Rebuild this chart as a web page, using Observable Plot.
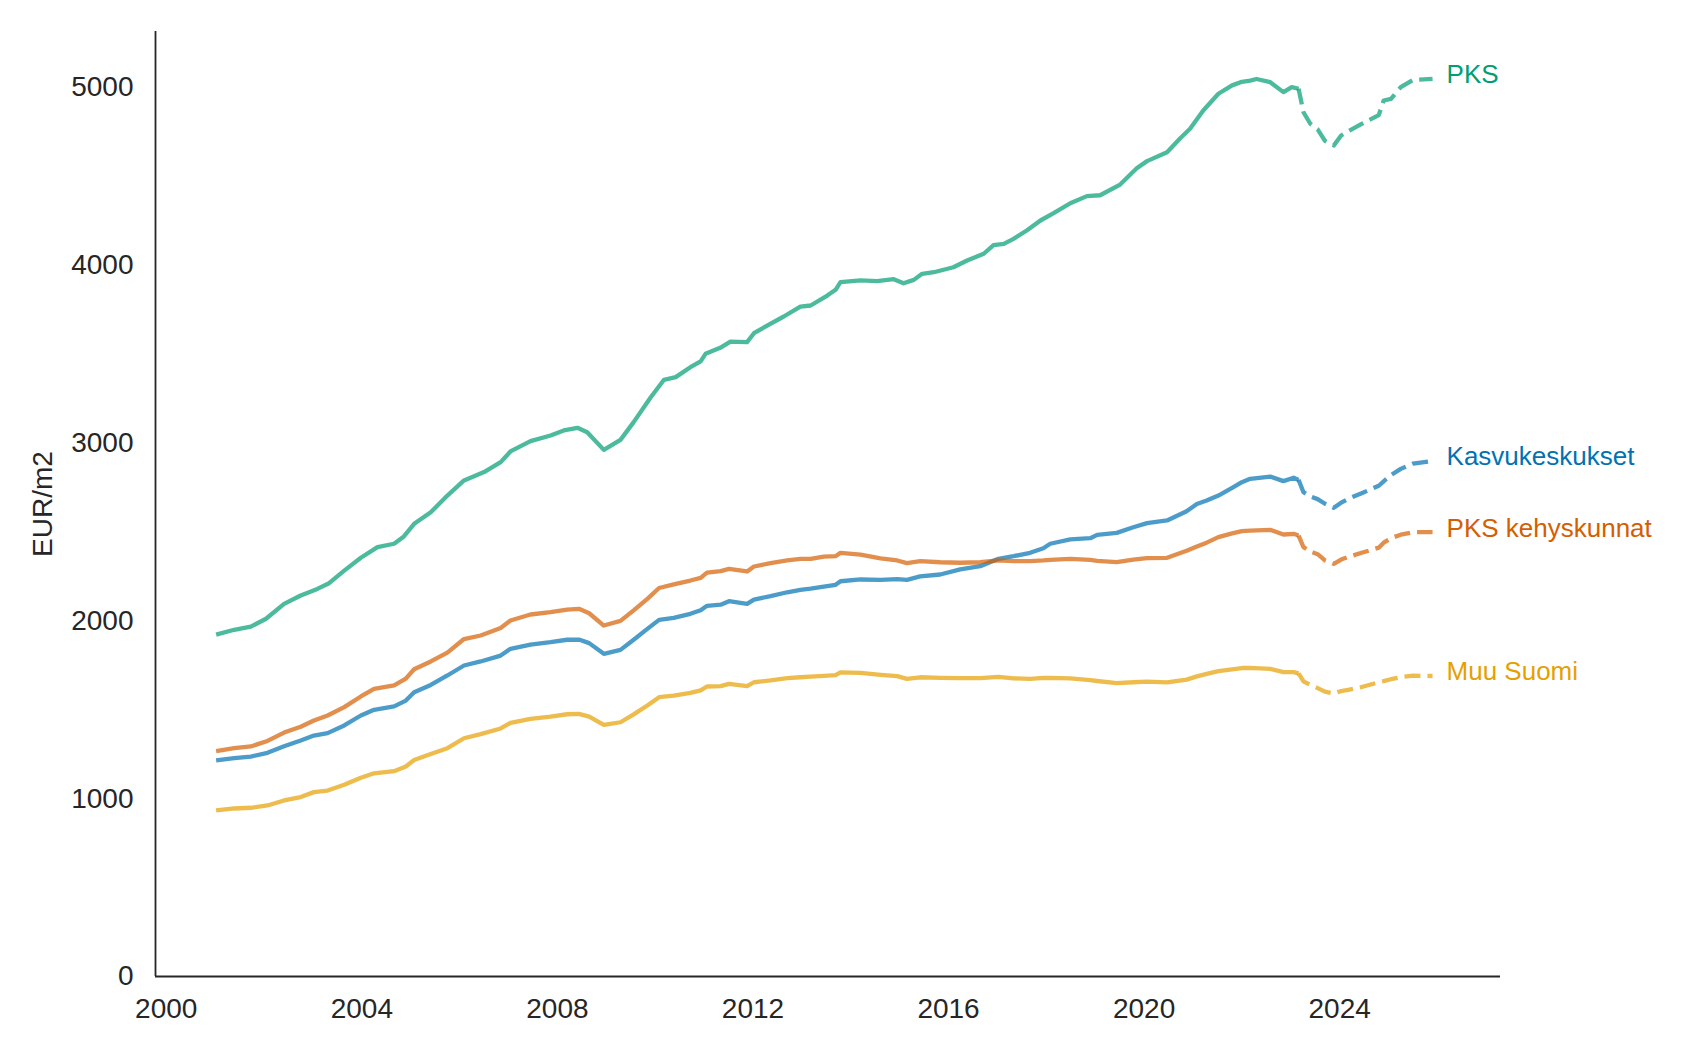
<!DOCTYPE html>
<html>
<head>
<meta charset="utf-8">
<script src="https://cdn.jsdelivr.net/npm/d3@7"></script>
<script src="https://cdn.jsdelivr.net/npm/@observablehq/plot@0.6"></script>
<style>
  html, body { margin: 0; padding: 0; background: #fff; }
  #chart { width: 1685px; height: 1053px; }
</style>
</head>
<body>
<div id="chart"></div>
<script>
// Series names and colours
const seriesNames = ["PKS", "Kasvukeskukset", "PKS kehyskunnat", "Muu Suomi"];
const seriesColors = ["#009e73", "#0072b2", "#d55e00", "#e69f00"];

// Tick values
const xTicks = [2000, 2004, 2008, 2012, 2016, 2020, 2024];
const yTicks = [0, 1000, 2000, 3000, 4000, 5000];

// PKS (historical)
const tPks = [2001.02, 2001.39, 2001.73, 2002.04, 2002.41, 2002.75, 2003.09, 2003.33, 2003.64, 2003.98,
  2004.32, 2004.66, 2004.86, 2005.07, 2005.41, 2005.75, 2006.09, 2006.5, 2006.84, 2007.04,
  2007.45, 2007.86, 2008.13, 2008.41, 2008.61, 2008.95, 2009.29, 2009.56, 2009.91, 2010.18,
  2010.42, 2010.72, 2010.93, 2011.03, 2011.33, 2011.54, 2011.88, 2012.02, 2012.29, 2012.63,
  2012.97, 2013.18, 2013.52, 2013.69, 2013.79, 2014.2, 2014.54, 2014.88, 2015.08, 2015.29,
  2015.46, 2015.7, 2016.1, 2016.38, 2016.72, 2016.92, 2017.13, 2017.33, 2017.6, 2017.88,
  2018.15, 2018.49, 2018.83, 2019.1, 2019.51, 2019.85, 2020.06, 2020.47, 2020.74, 2020.94,
  2021.21, 2021.52, 2021.8, 2022.0, 2022.17, 2022.3, 2022.58, 2022.85, 2023.02, 2023.16];
const pks = [1923, 1950, 1968, 2012, 2096, 2143, 2180, 2212, 2283, 2355,
  2415, 2434, 2475, 2546, 2611, 2705, 2790, 2837, 2893, 2953,
  3011, 3043, 3071, 3086, 3061, 2962, 3018, 3118, 3258, 3356,
  3371, 3427, 3460, 3502, 3536, 3571, 3568, 3618, 3661, 3712,
  3768, 3774, 3830, 3862, 3905, 3915, 3911, 3922, 3899, 3918,
  3952, 3961, 3989, 4027, 4065, 4113, 4121, 4149, 4196, 4252,
  4293, 4349, 4389, 4394, 4454, 4546, 4586, 4636, 4715, 4768,
  4871, 4965, 5012, 5032, 5039, 5048, 5030, 4974, 5002, 4993];

// Other three series (historical), shared time points
const tLow = [2001.02, 2001.39, 2001.73, 2002.07, 2002.41, 2002.75, 2003.02, 2003.3, 2003.64, 2003.98,
  2004.25, 2004.66, 2004.9, 2005.07, 2005.41, 2005.75, 2006.09, 2006.43, 2006.84, 2007.04,
  2007.45, 2007.86, 2008.2, 2008.44, 2008.65, 2008.95, 2009.29, 2009.56, 2009.84, 2010.08,
  2010.38, 2010.72, 2010.93, 2011.06, 2011.34, 2011.51, 2011.88, 2012.02, 2012.36, 2012.7,
  2012.97, 2013.18, 2013.45, 2013.69, 2013.79, 2014.2, 2014.61, 2014.95, 2015.15, 2015.42,
  2015.83, 2016.24, 2016.65, 2017.02, 2017.33, 2017.67, 2017.94, 2018.08, 2018.49, 2018.9,
  2019.04, 2019.44, 2019.78, 2020.06, 2020.47, 2020.87, 2021.08, 2021.28, 2021.52, 2021.8,
  2022.0, 2022.17, 2022.58, 2022.85, 2023.06, 2023.16];
const kasvu = [1215, 1228, 1237, 1258, 1295, 1327, 1355, 1369, 1412, 1468,
  1500, 1519, 1552, 1599, 1640, 1693, 1749, 1772, 1805, 1843,
  1867, 1880, 1894, 1895, 1875, 1815, 1837, 1894, 1955, 2006,
  2017, 2040, 2060, 2085, 2091, 2111, 2096, 2120, 2139, 2161,
  2175, 2181, 2193, 2203, 2223, 2233, 2231, 2235, 2231, 2250,
  2261, 2290, 2308, 2349, 2364, 2383, 2409, 2434, 2458, 2465,
  2484, 2495, 2527, 2550, 2565, 2617, 2658, 2677, 2705, 2748,
  2780, 2799, 2812, 2786, 2805, 2793];
const kehys = [1267, 1284, 1294, 1325, 1372, 1405, 1440, 1468, 1515, 1575,
  1618, 1638, 1675, 1728, 1772, 1822, 1898, 1918, 1960, 2002,
  2036, 2049, 2064, 2068, 2043, 1974, 2000, 2059, 2124, 2185,
  2205, 2227, 2242, 2272, 2280, 2293, 2278, 2306, 2325, 2340,
  2349, 2349, 2362, 2364, 2383, 2373, 2352, 2340, 2325, 2336,
  2330, 2327, 2330, 2340, 2336, 2336, 2340, 2343, 2349, 2343,
  2338, 2330, 2345, 2353, 2355, 2395, 2418, 2440, 2471, 2492,
  2505, 2508, 2512, 2486, 2490, 2480];
const muu = [934, 945, 949, 962, 990, 1009, 1037, 1046, 1078, 1118,
  1143, 1155, 1181, 1218, 1252, 1284, 1340, 1363, 1395, 1427,
  1449, 1462, 1475, 1477, 1462, 1415, 1430, 1474, 1524, 1571,
  1580, 1595, 1609, 1631, 1633, 1646, 1633, 1655, 1665, 1678,
  1683, 1687, 1691, 1695, 1710, 1708, 1697, 1689, 1674, 1683,
  1680, 1678, 1678, 1685, 1677, 1674, 1679, 1680, 1677, 1667,
  1662, 1650, 1655, 1659, 1654, 1670, 1688, 1702, 1717, 1727,
  1735, 1736, 1730, 1712, 1712, 1705];

// Forecast (dashed) part
const tProj = [2023.16, 2023.26, 2023.4, 2023.55, 2023.7, 2023.88, 2024.03, 2024.2, 2024.45, 2024.8, 2024.9, 2025.05, 2025.25, 2025.5, 2025.9];
const pksProj = [4993, 4861, 4796, 4765, 4700, 4674, 4730, 4758, 4795, 4845, 4927, 4936, 5002, 5043, 5049];
const kasvuProj = [2793, 2724, 2700, 2685, 2659, 2636, 2665, 2690, 2718, 2760, 2785, 2820, 2855, 2885, 2900];
const kehysProj = [2480, 2415, 2390, 2375, 2340, 2321, 2345, 2362, 2383, 2412, 2440, 2465, 2485, 2499, 2499];
const muuProj = [1705, 1660, 1640, 1622, 1602, 1592, 1605, 1613, 1628, 1655, 1661, 1672, 1684, 1692, 1690];

// Build tables
const histSets = [[tPks, pks], [tLow, kasvu], [tLow, kehys], [tLow, muu]];
const projSets = [pksProj, kasvuProj, kehysProj, muuProj];
const hist = [];
histSets.forEach(([ts, vs], i) => ts.forEach((t, j) => hist.push({t, v: vs[j], s: seriesNames[i]})));
const proj = [];
projSets.forEach((vs, i) => tProj.forEach((t, j) => proj.push({t, v: vs[j], s: seriesNames[i]})));
const lastPts = projSets.map((vs, i) => ({t: tProj[tProj.length - 1], v: vs[vs.length - 1], s: seriesNames[i]}));

const xMin = 1999.78, xMax = 2027.29;
const axisColor = "#262626";

const chart = Plot.plot({
  width: 1685,
  height: 1053,
  marginLeft: 155,
  marginRight: 185,
  marginTop: 31,
  marginBottom: 77,
  style: {fontFamily: "'Liberation Sans', Arial, sans-serif", fontSize: "28px", color: axisColor, background: "#fff", overflow: "visible"},
  x: {domain: [xMin, xMax]},
  y: {domain: [0, 5315]},
  color: {domain: seriesNames, range: seriesColors},
  marks: [
    Plot.axisX({ticks: xTicks, tickFormat: d => String(d), tickSize: 0, tickPadding: 22, label: null}),
    Plot.axisY({ticks: yTicks, tickFormat: d => String(d), tickSize: 0, tickPadding: 22, label: null}),
    Plot.ruleX([xMin], {stroke: axisColor, strokeWidth: 1.8}),
    Plot.ruleY([0], {stroke: axisColor, strokeWidth: 1.8}),
    Plot.line(hist, {x: "t", y: "v", z: "s", stroke: "s", strokeWidth: 4.3, strokeOpacity: 0.7, strokeLinecap: "butt"}),
    Plot.line(proj, {x: "t", y: "v", z: "s", stroke: "s", strokeWidth: 4.3, strokeOpacity: 0.7, strokeDasharray: "16,7", strokeLinecap: "butt"}),
    Plot.text(lastPts, {x: "t", y: "v", text: "s", fill: "s", textAnchor: "start", dx: 14, dy: -4, fontSize: 26}),
    Plot.text(["EUR/m2"], {frameAnchor: "left", textAnchor: "middle", lineAnchor: "middle", rotate: -90, dx: -112, fontSize: 28, fill: axisColor})
  ]
});
document.getElementById("chart").appendChild(chart);
</script>
</body>
</html>
